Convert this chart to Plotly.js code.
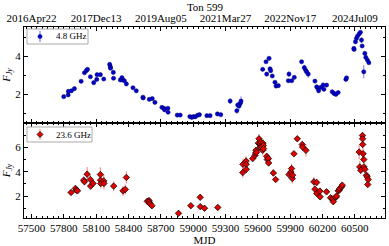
<!DOCTYPE html>
<html><head><meta charset="utf-8">
<script src="https://cdn.plot.ly/plotly-3.0.1.min.js"></script>
<style>html,body{margin:0;padding:0;background:#fff}#chart{width:389px;height:246px}</style>
</head><body><div id="chart"></div>
<script>
const mjd48 = [57799,57840,57842,57870,57898,57960,57991,58009,58019,58046,58077,58105,58108,58139,58170,58225,58231,58233,58259,58261,58324,58339,58348,58361,58380,58441,58472,58534,58536,58593,58620,58645,58710,58728,58734,58765,58767,58852,58880,58969,58987,59003,59019,59040,59058,59127,59157,59225,59256,59343,59405,59413,59426,59438,59444,59645,59676,59682,59704,59713,59719,59734,59759,59769,59790,59883,59889,59914,59938,60006,60031,60043,60052,60068,60130,60146,60156,60164,60185,60206,60213,60238,60290,60306,60324,60345,60417,60423,60491,60493,60506,60515,60525,60540,60552,60562,60568,60583,60593,60602,60617,60630];
const flux48 = [1.86,1.95,2.14,2.17,2.28,2.67,3.12,3.23,3.30,2.91,2.60,2.77,3.02,3.02,2.79,3.56,3.44,3.36,3.14,2.83,2.74,2.86,2.74,2.70,2.53,2.33,2.17,1.83,1.79,1.72,1.76,1.56,1.30,1.25,1.17,1.25,1.04,0.89,0.89,0.81,0.77,0.81,0.80,0.88,0.91,0.86,0.86,0.95,0.91,1.63,1.12,1.42,1.37,1.51,1.63,3.30,3.70,3.05,3.88,3.33,3.23,2.95,2.62,2.42,2.44,2.70,3.05,2.70,2.88,3.70,3.39,3.26,3.17,3.05,2.68,2.38,2.30,2.17,2.35,2.47,2.25,2.47,2.12,2.03,1.98,2.08,2.77,2.85,4.40,4.35,4.75,4.93,5.05,5.16,5.25,4.84,4.53,3.17,4.14,3.93,3.79,3.65];
const err48 = [0.05,0.05,0.05,0.05,0.05,0.05,0.05,0.05,0.05,0.05,0.05,0.05,0.05,0.05,0.05,0.05,0.05,0.05,0.05,0.05,0.05,0.05,0.05,0.05,0.05,0.05,0.05,0.05,0.05,0.05,0.05,0.05,0.05,0.05,0.05,0.05,0.05,0.05,0.05,0.05,0.05,0.05,0.05,0.05,0.05,0.05,0.05,0.05,0.05,0.15,0.15,0.15,0.2,0.2,0.25,0.05,0.08,0.08,0.05,0.05,0.08,0.05,0.05,0.05,0.05,0.05,0.15,0.05,0.05,0.05,0.15,0.1,0.2,0.2,0.08,0.05,0.05,0.05,0.05,0.15,0.05,0.05,0.05,0.05,0.05,0.05,0.05,0.05,0.08,0.08,0.05,0.05,0.05,0.05,0.05,0.15,0.1,0.35,0.05,0.05,0.05,0.05];

const mjd236 = [57867,57907,57917,57926,57984,57991,58016,58046,58048,58071,58139,58140,58142,58170,58172,58262,58349,58370,58380,58574,58590,58592,58600,58617,58864,58978,59065,59066,59105,59228,59460,59462,59491,59492,59493,59552,59574,59580,59583,59589,59605,59611,59620,59622,59629,59636,59645,59647,59651,59653,59682,59688,59698,59700,59744,59765,59889,59907,59913,59920,59923,59935,59966,60012,60015,60046,60120,60130,60146,60148,60176,60178,60238,60275,60293,60300,60324,60330,60346,60355,60361,60377,60383,60540,60546,60555,60571,60572,60573,60577,60583,60585,60593,60608,60614,60624,60620];
const flux236 = [2.30,2.63,2.49,2.43,3.31,3.18,3.80,3.36,2.82,3.04,3.77,3.31,3.04,3.25,3.04,2.82,2.43,2.55,3.53,1.57,1.63,1.50,1.36,1.21,0.58,1.21,1.90,1.13,1.00,1.07,3.93,4.61,4.88,4.61,4.20,5.08,5.35,5.54,5.76,5.60,6.35,6.71,6.30,6.03,6.44,6.08,5.76,6.35,6.16,5.90,5.27,5.00,5.08,4.72,3.90,3.36,3.77,3.98,4.26,3.44,3.72,5.48,6.71,6.24,6.03,5.76,3.17,2.57,3.12,2.22,2.41,1.94,2.35,1.86,1.76,1.54,1.90,2.00,2.43,2.49,2.63,2.76,2.90,5.62,4.40,4.12,6.98,6.71,6.24,5.48,5.00,4.40,4.20,3.71,3.58,3.36,2.95];
const err236 = [0.1,0.25,0.2,0.15,0.3,0.3,0.6,0.4,0.3,0.3,0.6,0.5,0.4,0.5,0.5,0.4,0.4,0.4,0.5,0.15,0.2,0.15,0.1,0.1,0.1,0.1,0.2,0.1,0.1,0.1,0.4,0.45,0.4,0.3,0.3,0.2,0.3,0.4,0.3,0.3,0.3,0.4,0.4,0.3,0.3,0.3,0.4,0.3,0.3,0.3,0.3,0.3,0.3,0.2,0.3,0.15,0.3,0.3,0.4,0.4,0.3,0.15,0.2,0.3,0.3,0.5,0.4,0.3,0.3,0.3,0.2,0.2,0.15,0.15,0.15,0.15,0.2,0.2,0.15,0.15,0.15,0.15,0.15,0.6,0.5,0.3,0.3,0.3,0.4,0.4,0.3,0.3,0.3,0.3,0.2,0.2,0.2];

const mjdTicks = [57500,57800,58100,58400,58700,59000,59300,59600,59900,60200,60500];
const dateTickMJD = [57500,58100,58700,59300,59900,60500];
const dateTickLabels = ['2016Apr22','2017Dec13','2019Aug05','2021Mar27','2022Nov17','2024Jul09'];
const ticks48 = [2,4];
const ticks236 = [2,4,6];
const seriesNames = ['4.8 GHz', '23.6 GHz'];

const FONT = 'Liberation Serif, Times New Roman, serif';
const xr = [57430, 60780];

// layout geometry (pixels)
const W = 389, H = 246, ML = 24, MR = 4, MT = 27, MB = 28;
const PW = W - ML - MR, PH = H - MT - MB;
const px = v => (v - ML) / PW;
const py = v => (H - MB - v) / PH;

const traces = [
  {x: mjd48, y: flux48, type: 'scatter', mode: 'markers', name: seriesNames[0],
   xaxis: 'x2', yaxis: 'y', showlegend: false,
   error_y: {type: 'data', array: err48, visible: true, color: '#7a7aff', thickness: 1, width: 0},
   marker: {symbol: 'circle', size: 4.2, color: '#0000d0', line: {color: '#000060', width: 0.5}}},
  {x: mjd236, y: flux236, type: 'scatter', mode: 'markers', name: seriesNames[1],
   xaxis: 'x', yaxis: 'y2', showlegend: false,
   error_y: {type: 'data', array: err236, visible: true, color: '#ff9090', thickness: 1.2, width: 0},
   marker: {symbol: 'diamond', size: 5, color: '#e00000', line: {color: '#000000', width: 0.7}}}
];

const axBase = {showline: true, linecolor: '#000', linewidth: 1, mirror: 'ticks', ticks: 'inside',
  ticklen: 4, tickcolor: '#000', showgrid: false, zeroline: false,
  tickfont: {family: FONT, size: 11, color: '#000'}};

// legend boxes drawn as shapes + annotations
function legendBox(x0, y0, x1, y1, kind, name, barColor) {
  const cx = x0 + 13, cy = (y0 + y1) / 2;
  const shapes = [
    {type: 'rect', xref: 'paper', yref: 'paper', x0: px(x0), x1: px(x1), y0: py(y1), y1: py(y0),
     line: {color: '#aaaaaa', width: 1}, fillcolor: '#ffffff', layer: 'above'},
    {type: 'line', xref: 'paper', yref: 'paper', x0: px(cx), x1: px(cx), y0: py(cy + 5.5), y1: py(cy - 5.5),
     line: {color: barColor, width: 1.2}, layer: 'above'}
  ];
  if (kind === 'circle') {
    shapes.push({type: 'circle', xref: 'paper', yref: 'paper', x0: px(cx - 2.1), x1: px(cx + 2.1),
      y0: py(cy + 2.1), y1: py(cy - 2.1), fillcolor: '#0000d0', line: {color: '#000060', width: 0.5}, layer: 'above'});
  } else {
    const d = 3;
    shapes.push({type: 'path', xref: 'paper', yref: 'paper',
      path: `M ${px(cx)} ${py(cy - d)} L ${px(cx + d)} ${py(cy)} L ${px(cx)} ${py(cy + d)} L ${px(cx - d)} ${py(cy)} Z`,
      fillcolor: '#e00000', line: {color: '#000', width: 0.7}, layer: 'above'});
  }
  const ann = {xref: 'paper', yref: 'paper', x: px(x0 + 27), y: py(cy), xanchor: 'left', yanchor: 'middle',
    text: name, showarrow: false, font: {family: FONT, size: 9, color: '#000'}};
  return {shapes, ann};
}
const lg1 = legendBox(27, 29, 88, 44, 'circle', seriesNames[0], '#7a7aff');
const lg2 = legendBox(27, 127, 92, 142, 'diamond', seriesNames[1], '#ff9090');

const layout = {
  width: W, height: H,
  margin: {l: ML, r: MR, t: MT, b: MB},
  paper_bgcolor: '#fff', plot_bgcolor: '#fff',
  font: {family: FONT, size: 11, color: '#000'},
  title: {text: 'Ton 599', x: 0.527, xanchor: 'center', y: 0.985, yanchor: 'top', font: {family: FONT, size: 11}},
  showlegend: false,
  xaxis: Object.assign({}, axBase, {anchor: 'y2', range: xr, tickmode: 'array', tickvals: mjdTicks,
    ticktext: mjdTicks.map(String),
    minor: {ticks: 'inside', tickmode: 'linear', tick0: 57500, dtick: 50, ticklen: 2, tickcolor: '#000'},
    title: {text: 'MJD', font: {family: FONT, size: 11}, standoff: 2}}),
  xaxis2: Object.assign({}, axBase, {anchor: 'y', side: 'top', range: xr, tickmode: 'array',
    tickvals: dateTickMJD, ticktext: dateTickLabels,
    minor: {ticks: 'inside', tickmode: 'linear', tick0: 57500, dtick: 50, ticklen: 2, tickcolor: '#000'}}),
  yaxis: Object.assign({}, axBase, {domain: [0.497, 1], range: [0.47, 5.53], tickmode: 'array', tickvals: ticks48,
    minor: {ticks: 'inside', tickmode: 'linear', tick0: 0, dtick: 1, ticklen: 2, tickcolor: '#000'},
    title: {text: '<i>F</i><sub><i>Jy</i></sub>', font: {family: FONT, size: 11}, standoff: 3}}),
  yaxis2: Object.assign({}, axBase, {domain: [0, 0.497], range: [0.2, 8], tickmode: 'array', tickvals: ticks236,
    minor: {ticks: 'inside', tickmode: 'linear', tick0: 0, dtick: 1, ticklen: 2, tickcolor: '#000'},
    title: {text: '<i>F</i><sub><i>Jy</i></sub>', font: {family: FONT, size: 11}, standoff: 3}}),
  shapes: lg1.shapes.concat(lg2.shapes),
  annotations: [lg1.ann, lg2.ann]
};

Plotly.newPlot('chart', traces, layout, {staticPlot: true, displayModeBar: false});
</script></body></html>
